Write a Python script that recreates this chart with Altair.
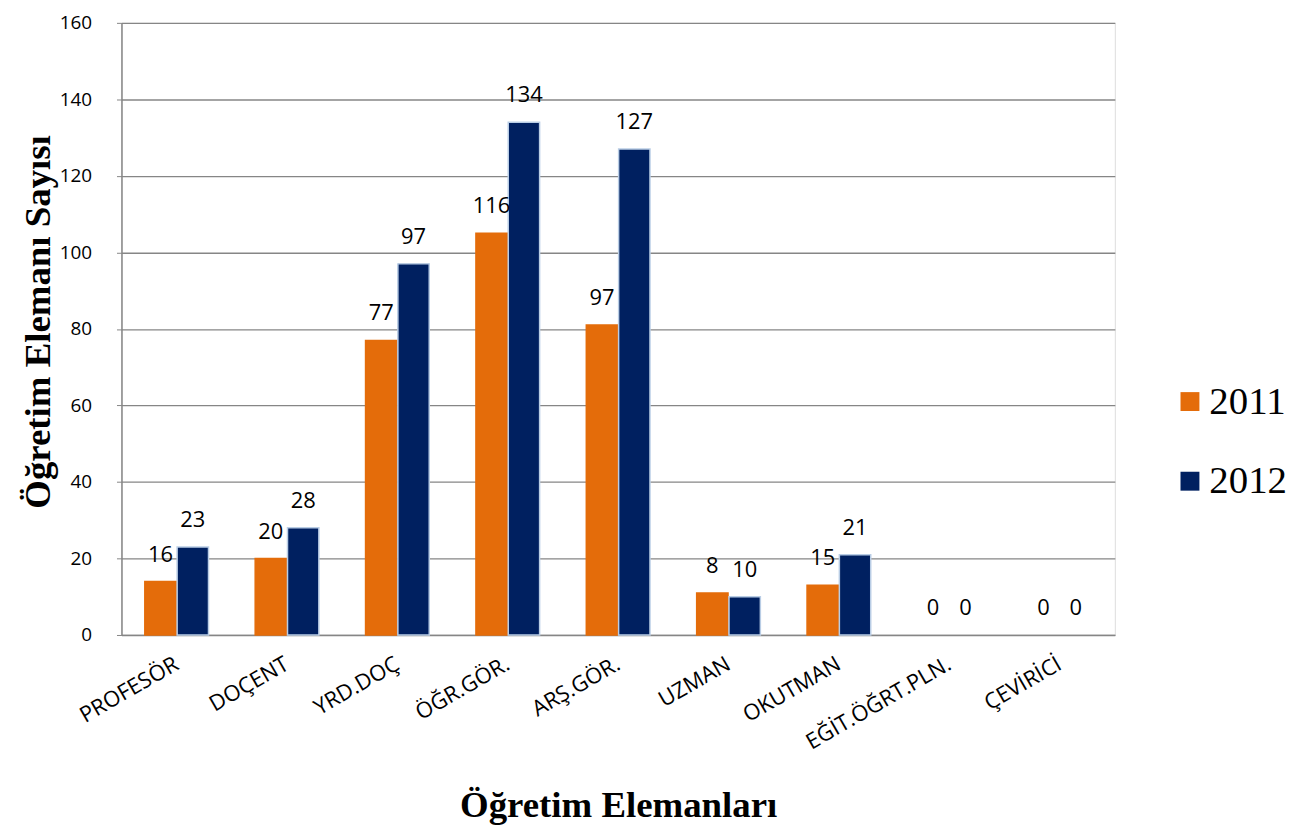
import altair as alt
import pandas as pd

categories = ["PROFESÖR", "DOÇENT", "YRD.DOÇ", "ÖĞR.GÖR.", "ARŞ.GÖR.",
              "UZMAN", "OKUTMAN", "EĞİT.ÖĞRT.PLN.", "ÇEVİRİCİ"]
years = ["2011", "2012"]
bar_2011 = [14, 20, 77, 105, 81, 11, 13, 0, 0]
bar_2012 = [23, 28, 97, 134, 127, 10, 21, 0, 0]
label_2011 = [16, 20, 77, 116, 97, 8, 15, 0, 0]
label_2012 = [23, 28, 97, 134, 127, 10, 21, 0, 0]

rows = []
for i, c in enumerate(categories):
    rows.append({"cat": c, "year": "2011", "val": bar_2011[i], "lab": label_2011[i]})
    rows.append({"cat": c, "year": "2012", "val": bar_2012[i], "lab": label_2012[i]})
df = pd.DataFrame(rows)

ORANGE = "#E46C0A"
NAVY = "#002060"

x = alt.X("cat:N", sort=categories,
          scale=alt.Scale(paddingInner=0.423, paddingOuter=0.2115),
          axis=alt.Axis(title="Öğretim Elemanları", labelAngle=-30, labelAlign="right",
                        labelBaseline="middle", labelPadding=27, ticks=False,
                        labelFont="Open Sans", labelFontSize=22, labelColor="#000000",
                        domainColor="#868686", domainWidth=1.5,
                        titleFont="Liberation Serif", titleFontSize=37, titleFontWeight="bold",
                        titleColor="#000000", titleY=182, titleBaseline="alphabetic"))
xo = alt.XOffset("year:N", sort=years, scale=alt.Scale(paddingInner=0.03))

y = alt.Y("val:Q", scale=alt.Scale(domain=[0, 160], nice=False),
          axis=alt.Axis(title="Öğretim Elemanı Sayısı", values=list(range(0, 161, 20)),
                        tickSize=5, tickColor="#868686", labelPadding=25,
                        labelFont="Open Sans", labelFontSize=19, labelColor="#000000",
                        domainColor="#868686", domainWidth=1.5,
                        gridColor="#868686", gridWidth=1.3,
                        titleFont="Liberation Serif", titleFontSize=37, titleFontWeight="bold",
                        titleColor="#000000", titleX=-72, titleY=300, titleAngle=-90,
                        titleAlign="center", titleBaseline="alphabetic"))

base = alt.Chart(df)

bars = base.mark_bar(strokeWidth=1.5).encode(
    x=x, xOffset=xo, y=y,
    color=alt.Color("year:N", sort=years,
                    scale=alt.Scale(domain=years, range=[ORANGE, NAVY]),
                    legend=alt.Legend(title=None, orient="none", legendX=1054, legendY=361,
                                      symbolType="square", symbolSize=361,
                                      symbolStrokeWidth=0,
                                      labelFont="Liberation Serif", labelFontSize=39,
                                      labelColor="#000000", labelOffset=0,
                                      rowPadding=40, padding=0)),
    stroke=alt.Stroke("year:N", sort=years,
                      scale=alt.Scale(domain=years, range=[ORANGE, "#B9CDE5"]),
                      legend=None),
).transform_filter("datum.val > 0")

labels = base.mark_text(dy=-27, font="Open Sans", fontSize=22, color="#000000").encode(
    x=alt.X("cat:N", sort=categories), xOffset=alt.XOffset("year:N", sort=years),
    y=alt.Y("val:Q"),
    text=alt.Text("lab:Q"),
)

chart = alt.layer(bars, labels).properties(
    width=998, height=615,
    autosize=alt.AutoSizeParams(type="none"),
    padding={"left": 114, "top": 13, "right": 175, "bottom": 190},
).configure_view(stroke=None).configure(background="white")

chart.save("out.html", embed_options={"renderer": "svg", "actions": False})
